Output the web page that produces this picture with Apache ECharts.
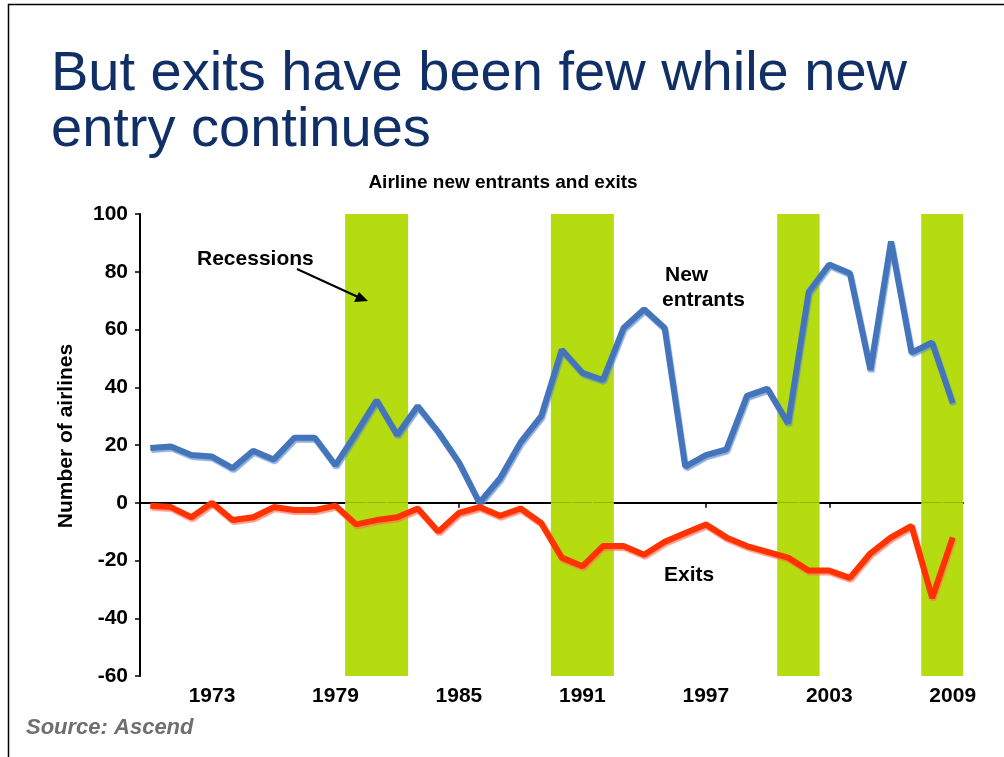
<!DOCTYPE html>
<html>
<head>
<meta charset="utf-8">
<title>Airline new entrants and exits</title>
<script src="https://cdn.jsdelivr.net/npm/echarts@6/dist/echarts.min.js"></script>
<style>
  html, body {
    margin: 0;
    padding: 0;
    background: #fff;
  }
  #chart {
    width: 1004px;
    height: 757px;
  }
</style>
</head>
<body>
<div id="chart"></div>
<script>
  const years = [
    1970, 1971, 1972, 1973, 1974, 1975, 1976, 1977, 1978, 1979,
    1980, 1981, 1982, 1983, 1984, 1985, 1986, 1987, 1988, 1989,
    1990, 1991, 1992, 1993, 1994, 1995, 1996, 1997, 1998, 1999,
    2000, 2001, 2002, 2003, 2004, 2005, 2006, 2007, 2008, 2009
  ]
  const newEntrants = [
    19, 19.5, 16.5, 16, 12, 18, 15, 22.5, 22.5, 13,
    24, 35.5, 23.5, 33.5, 24.5, 14, 0, 8.5, 21, 30,
    53, 45, 42.5, 60.5, 67, 60.5, 12.5, 16.5, 18.5, 37,
    39.5, 27.5, 73, 82.5, 79.5, 46, 90.5, 52, 55.5, 34.5
  ]
  const exits = [
    -1, -1.5, -5, 0, -6, -5, -1.5, -2.5, -2.5, -1,
    -7.5, -6, -5, -2, -10, -3.5, -1.5, -4.5, -2, -7,
    -19, -22, -15, -15, -18, -13.5, -10.5, -7.5, -12, -15,
    -17, -19, -23.5, -23.5, -26, -17.5, -12, -8, -33, -12
  ]
  // recession years, drawn as full-height bands
  const recessionYears = [1980, 1981, 1982, 1990, 1991, 1992, 2001, 2002, 2008, 2009]
  const yearLabels = ['1973', '1979', '1985', '1991', '1997', '2003', '2009']
  const yMin = -60
  const yMax = 100

  const FONT = "'Liberation Sans', Arial, sans-serif"
  const GREEN = '#b5dc10'

  function showLabel(idx) {
    return yearLabels.indexOf(String(years[idx])) >= 0
  }

  function initChart(dom) {
    const chart = echarts.init(dom, null, { renderer: 'canvas' })

    const bandTop = years.map(y => (recessionYears.indexOf(y) >= 0 ? yMax : '-'))
    const bandBottom = years.map(y => (recessionYears.indexOf(y) >= 0 ? yMin : '-'))

    const option = {
      animation: false,
      backgroundColor: '#fff',
      textStyle: { fontFamily: FONT },
      grid: {
        left: 140,
        right: 41,
        top: 214,
        bottom: 81
      },
      xAxis: [
        {
          type: 'category',
          data: years,
          position: 'bottom',
          boundaryGap: true,
          axisLine: { onZero: true, lineStyle: { color: '#000', width: 2 } },
          axisTick: {
            show: true,
            alignWithLabel: true,
            interval: (idx) => showLabel(idx),
            length: 5,
            lineStyle: { color: '#000', width: 1.5 }
          },
          axisLabel: { show: false },
          splitLine: { show: false }
        },
        {
          type: 'category',
          data: years,
          position: 'bottom',
          boundaryGap: true,
          axisLine: { show: false, onZero: false },
          axisTick: { show: false },
          axisLabel: {
            interval: (idx) => showLabel(idx),
            margin: 10,
            color: '#000',
            fontSize: 21,
            fontWeight: 'bold',
            fontFamily: FONT
          },
          splitLine: { show: false }
        }
      ],
      yAxis: {
        type: 'value',
        min: yMin,
        max: yMax,
        interval: 20,
        axisLine: { show: true, lineStyle: { color: '#000', width: 2 } },
        axisTick: { show: true, length: 5, lineStyle: { color: '#000', width: 1.5 } },
        axisLabel: {
          margin: 12,
          color: '#000',
          fontSize: 21,
          fontWeight: 'bold',
          fontFamily: FONT
        },
        splitLine: { show: false }
      },
      series: [
        {
          name: 'Recessions',
          type: 'bar',
          data: bandTop,
          barWidth: '106%',
          barCategoryGap: 0,
          itemStyle: { color: GREEN },
          silent: true
        },
        {
          name: 'Recessions low',
          type: 'bar',
          data: bandBottom,
          barWidth: '106%',
          barGap: '-100%',
          itemStyle: { color: GREEN },
          silent: true
        },
        {
          name: 'New entrants',
          type: 'line',
          data: newEntrants,
          symbol: 'none',
          z: 5,
          lineStyle: {
            color: '#4474ba',
            width: 6,
            shadowColor: 'rgba(90,140,210,0.7)',
            shadowOffsetX: 1,
            shadowOffsetY: 2,
            shadowBlur: 1
          }
        },
        {
          name: 'Exits',
          type: 'line',
          data: exits,
          symbol: 'none',
          z: 5,
          lineStyle: {
            color: '#ff3300',
            width: 6,
            shadowColor: 'rgba(255,110,90,0.7)',
            shadowOffsetX: 1,
            shadowOffsetY: 2,
            shadowBlur: 1
          }
        }
      ],
      graphic: [
        {
          type: 'rect',
          shape: { x: 8.5, y: 4.5, width: 1100, height: 800 },
          style: { fill: 'none', stroke: '#000', lineWidth: 1.5 },
          silent: true
        },
        {
          type: 'text',
          x: 51,
          y: 75,
          style: {
            text: 'But exits have been few while new',
            fill: '#0f2f66',
            font: '56px ' + FONT,
            align: 'left',
            verticalAlign: 'middle'
          }
        },
        {
          type: 'text',
          x: 51,
          y: 131,
          style: {
            text: 'entry continues',
            fill: '#0f2f66',
            font: '56px ' + FONT,
            align: 'left',
            verticalAlign: 'middle'
          }
        },
        {
          type: 'text',
          x: 503,
          y: 183,
          style: {
            text: 'Airline new entrants and exits',
            fill: '#000',
            font: 'bold 19px ' + FONT,
            align: 'center',
            verticalAlign: 'middle'
          }
        },
        {
          type: 'text',
          x: 66,
          y: 436,
          rotation: Math.PI / 2,
          style: {
            text: 'Number of airlines',
            fill: '#000',
            font: 'bold 21px ' + FONT,
            align: 'center',
            verticalAlign: 'middle'
          }
        },
        {
          type: 'text',
          x: 197,
          y: 259,
          style: {
            text: 'Recessions',
            fill: '#000',
            font: 'bold 21px ' + FONT,
            align: 'left',
            verticalAlign: 'middle'
          }
        },
        {
          type: 'line',
          z: 100,
          shape: { x1: 297, y1: 269, x2: 358, y2: 297 },
          style: { stroke: '#000', lineWidth: 2 }
        },
        {
          type: 'polygon',
          z: 100,
          shape: { points: [[368, 301], [354, 302], [359, 292]] },
          style: { fill: '#000' }
        },
        {
          type: 'text',
          x: 665,
          y: 275,
          style: {
            text: 'New',
            fill: '#000',
            font: 'bold 21px ' + FONT,
            align: 'left',
            verticalAlign: 'middle'
          }
        },
        {
          type: 'text',
          x: 662,
          y: 300,
          style: {
            text: 'entrants',
            fill: '#000',
            font: 'bold 21px ' + FONT,
            align: 'left',
            verticalAlign: 'middle'
          }
        },
        {
          type: 'text',
          x: 664,
          y: 575,
          style: {
            text: 'Exits',
            fill: '#000',
            font: 'bold 21px ' + FONT,
            align: 'left',
            verticalAlign: 'middle'
          }
        },
        {
          type: 'text',
          x: 26,
          y: 728,
          style: {
            text: 'Source: Ascend',
            fill: '#6f6f6f',
            font: 'italic bold 22px ' + FONT,
            align: 'left',
            verticalAlign: 'middle'
          }
        }
      ]
    }

    chart.setOption(option)
    return chart
  }

  initChart(document.getElementById('chart'))
</script>
</body>
</html>
